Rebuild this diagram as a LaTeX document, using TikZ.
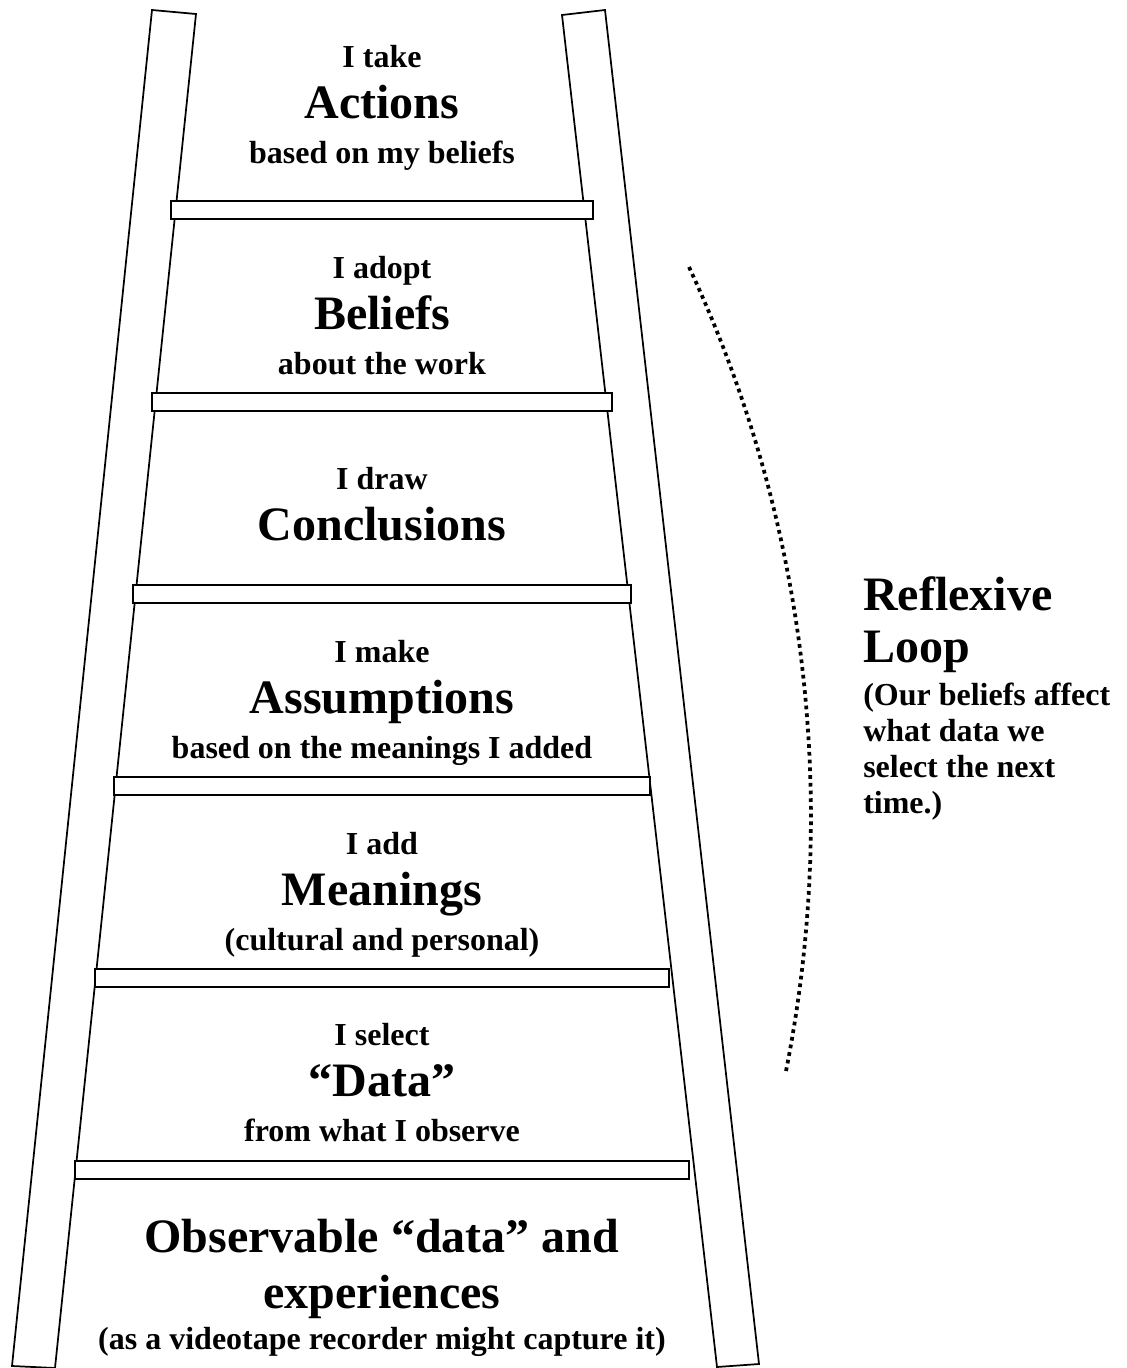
\documentclass[tikz,border=0pt]{standalone}
\usepackage{fontspec}
\setmainfont{Liberation Serif}
\usepackage{tikz}
\usetikzlibrary{calc}

\begin{document}
\begin{tikzpicture}[x=0.75pt, y=-0.75pt,
    rail/.style={draw, line width=1.3pt, fill=white, line join=miter},
    rung/.style={draw, line width=1.5pt, fill=white},
    small/.style={anchor=base, inner sep=0pt, font=\fontsize{24}{28}\selectfont\bfseries},
    big/.style={anchor=base, inner sep=0pt, font=\fontsize{36}{42}\selectfont\bfseries},
    loopline/.style={line width=2.8pt, dash pattern=on 2.8pt off 3pt}]
  \useasboundingbox (0,0) rectangle (1127,1368);
  % rails
  \draw[rail] (152,10) -- (196,14) -- (55,1368) -- (12,1366) -- cycle;
  \draw[rail] (562,15) -- (605,10) -- (759,1364) -- (717,1367) -- cycle;
  % rungs
  \draw[rung] (171,201) rectangle (593,219);
  \draw[rung] (152,393) rectangle (612,411);
  \draw[rung] (133,585) rectangle (631,603);
  \draw[rung] (114,777) rectangle (650,795);
  \draw[rung] (95,969) rectangle (669,987);
  \draw[rung] (75,1161) rectangle (689,1179);
  % actions
  \node[small] (actTop) at (382,67) {I take};
  \node[big]   (actBig) at (382,118) {Actions};
  \node[small] (actSub) at (382,163) {based on my beliefs};
  % beliefs
  \node[small] (belTop) at (382,278) {I adopt};
  \node[big]   (belBig) at (382,329) {Beliefs};
  \node[small] (belSub) at (382,374) {about the work};
  % conclusions
  \node[small] (conTop) at (382,489) {I draw};
  \node[big]   (conBig) at (382,540) {Conclusions};
  % assumptions
  \node[small] (assTop) at (382,662) {I make};
  \node[big]   (assBig) at (382,713) {Assumptions};
  \node[small] (assSub) at (382,758) {based on the meanings I added};
  % meanings
  \node[small] (meaTop) at (382,854) {I add};
  \node[big]   (meaBig) at (382,905) {Meanings};
  \node[small] (meaSub) at (382,950) {(cultural and personal)};
  % selected data
  \node[small] (datTop) at (382,1045) {I select};
  \node[big]   (datBig) at (382,1096) {“Data”};
  \node[small] (datSub) at (382,1141) {from what I observe};
  % observable data
  \node[big]   (obsTop) at (382,1252) {Observable “data” and};
  \node[big]   (obsBig) at (382,1308) {experiences};
  \node[small] (obsSub) at (382,1349) {(as a videotape recorder might capture it)};
  % reflexive loop
  \coordinate (loopTop) at (689,267);
  \coordinate (loopBot) at (786,1071);
  \draw[loopline] (loopTop) .. controls (805.8,517.8) and (839.9,799.6) .. (loopBot);
  \node[big, anchor=base west]   (loopA) at (863,610) {Reflexive};
  \node[big, anchor=base west]   (loopB) at (863,662) {Loop};
  \node[small, anchor=base west] (loopC) at (863,705) {(Our beliefs affect};
  \node[small, anchor=base west] (loopD) at (863,741) {what data we};
  \node[small, anchor=base west] (loopE) at (863,777) {select the next};
  \node[small, anchor=base west] (loopF) at (863,813) {time.)};
\end{tikzpicture}
\end{document}
